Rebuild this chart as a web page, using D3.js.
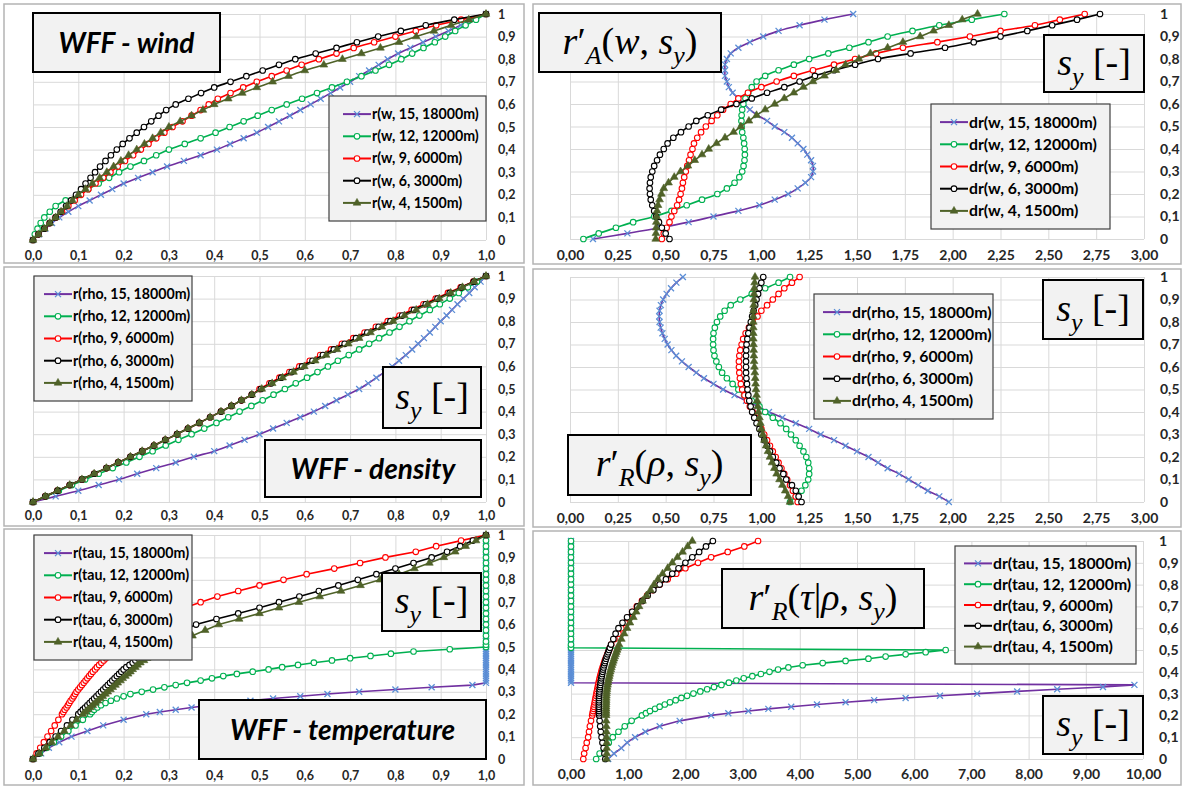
<!DOCTYPE html>
<meta charset="utf-8">
<style>
body { margin: 0; background: #fff; }
svg { display: block; }
.grid line { stroke: #d9d9d9; stroke-width: 1; }
.grid path { display: none; }
.lab text { font-family: Lato, "Open Sans", sans-serif; font-weight: bold; fill: #262626; }
</style>
<svg width="1184" height="787"></svg>
<script src="https://cdnjs.cloudflare.com/ajax/libs/d3/7.8.5/d3.min.js"></script>
<script>

// s_y sample levels (vertical axis)
var sy41 = [0,0.025,0.05,0.075,0.1,0.125,0.15,0.175,0.2,0.225,0.25,0.275,0.3,0.325,0.35,0.375,0.4,0.425,0.45,0.475,0.5,
  0.525,0.55,0.575,0.6,0.625,0.65,0.675,0.7,0.725,0.75,0.775,0.8,0.825,0.85,0.875,0.9,0.925,0.95,0.975,1];
var syTau = [0,0.025,0.05,0.075,0.1,0.125,0.15,0.175,0.2,
  0.21,0.22,0.23,0.24,0.25,0.26,0.27,0.28,0.29,0.3,0.31,0.32,0.33,0.34,0.35,0.36,0.37,0.38,0.39,0.4,
  0.41,0.42,0.43,0.44,0.45,0.46,0.47,0.48,0.49,0.5,0.51,
  0.525,0.55,0.575,0.6,0.625,0.65,0.675,0.7,0.725,0.75,0.775,0.8,0.825,0.85,0.875,0.9,0.925,0.95,0.975,1];

// WFF - wind, r(w, ...)
var rW15 = [0,.013,.027,.042,.058,.078,.1,.125,.15,.175,.2,.232,.264,.296,.333,.37,.406,.435,.465,.494,.519,.543,.567,.59,.613,.635,.657,.678,.7,.72,.742,.763,.783,.806,.833,.861,.889,.917,.944,.972,1];
var rW12 = [0,.004,.01,.017,.025,.037,.05,.072,.1,.122,.145,.168,.19,.215,.245,.272,.3,.335,.37,.403,.434,.465,.496,.527,.56,.594,.627,.66,.693,.725,.756,.786,.813,.837,.862,.887,.91,.932,.955,.978,1];
var rW9 = [0,.012,.025,.037,.05,.064,.078,.092,.106,.122,.138,.155,.171,.187,.203,.221,.238,.255,.272,.29,.308,.33,.35,.37,.388,.408,.436,.464,.494,.527,.56,.593,.631,.67,.708,.753,.8,.845,.89,.945,1];
var rW6 = [0,.012,.025,.037,.05,.061,.073,.084,.095,.106,.116,.127,.137,.148,.16,.172,.185,.198,.213,.229,.245,.261,.277,.294,.315,.343,.371,.4,.436,.471,.507,.543,.579,.624,.67,.715,.762,.812,.867,.93,1];
var rW4 = [0,.012,.025,.037,.05,.062,.075,.087,.1,.116,.131,.147,.163,.178,.194,.211,.229,.246,.264,.282,.3,.325,.35,.375,.4,.431,.462,.494,.529,.564,.6,.642,.683,.725,.767,.808,.846,.885,.923,.962,1];

// r'_A(w, s_y), dr(w, ...)
var drW15 = [.12,.3,.47,.62,.75,.88,.99,1.07,1.14,1.19,1.23,1.26,1.27,1.27,1.26,1.24,1.22,1.19,1.16,1.12,1.07,1.03,.98,.94,.91,.88,.85,.83,.82,.81,.81,.81,.82,.84,.88,.94,1.01,1.09,1.2,1.33,1.48];
var drW12 = [.07,.15,.24,.33,.44,.53,.61,.69,.77,.82,.86,.885,.9,.907,.912,.914,.913,.91,.906,.9,.897,.896,.897,.9,.906,.917,.932,.95,.975,1.02,1.09,1.17,1.25,1.35,1.46,1.56,1.66,1.79,1.93,2.1,2.27];
var drW9 = [.48,.49,.505,.52,.53,.545,.56,.57,.578,.585,.59,.597,.605,.613,.622,.63,.64,.648,.665,.685,.71,.74,.77,.8,.84,.88,.93,1.0,1.08,1.17,1.27,1.38,1.49,1.6,1.74,1.92,2.09,2.25,2.43,2.56,2.69];
var drW6 = [.52,.5,.48,.465,.45,.44,.43,.422,.418,.416,.418,.422,.43,.44,.455,.47,.49,.51,.54,.58,.62,.66,.72,.79,.87,.95,1.03,1.12,1.2,1.28,1.38,1.49,1.61,1.78,1.96,2.11,2.25,2.39,2.52,2.65,2.77];
var drW4 = [.448,.449,.45,.451,.452,.455,.46,.468,.478,.49,.515,.545,.578,.616,.652,.69,.725,.766,.81,.855,.893,.935,.975,1.02,1.07,1.12,1.17,1.22,1.27,1.33,1.39,1.44,1.51,1.57,1.66,1.74,1.83,1.9,1.98,2.05,2.13];

// WFF - density, r(rho, ...)
var rR15 = [0,.05,.1,.145,.19,.23,.272,.315,.355,.4,.434,.467,.5,.53,.56,.59,.62,.645,.67,.695,.72,.74,.758,.776,.793,.808,.823,.837,.85,.863,.876,.888,.9,.913,.925,.937,.95,.963,.975,.988,1];
var rR12 = [0,.029,.057,.086,.115,.145,.176,.206,.235,.264,.293,.321,.35,.378,.405,.431,.456,.482,.507,.531,.556,.58,.605,.628,.651,.673,.697,.72,.742,.764,.787,.809,.831,.853,.876,.898,.92,.94,.96,.98,1];
var rR9 = [0,.027,.054,.081,.108,.135,.162,.188,.215,.241,.267,.292,.318,.342,.367,.391,.415,.438,.46,.483,.5,.522,.544,.566,.588,.611,.634,.658,.682,.707,.732,.757,.783,.809,.836,.862,.889,.916,.944,.972,1];
var rR6 = [0,.027,.054,.081,.108,.135,.162,.188,.215,.241,.267,.292,.318,.342,.367,.391,.415,.438,.46,.483,.503,.526,.548,.571,.594,.617,.64,.664,.688,.713,.738,.763,.789,.815,.841,.867,.893,.92,.946,.973,1];
var rR4 = [0,.027,.054,.081,.108,.135,.162,.188,.215,.241,.267,.292,.318,.342,.367,.391,.415,.438,.46,.483,.505,.528,.551,.575,.599,.623,.647,.671,.696,.72,.745,.77,.795,.82,.846,.871,.897,.922,.948,.974,1];

// r'_R(rho, s_y), dr(rho, ...)
var drR15 = [1.98,1.93,1.87,1.82,1.77,1.72,1.66,1.61,1.56,1.5,1.44,1.38,1.31,1.25,1.18,1.11,1.04,.98,.92,.86,.8,.75,.7,.66,.62,.585,.555,.53,.51,.495,.483,.474,.468,.466,.468,.475,.487,.505,.528,.556,.59];
var drR12 = [1.15,1.18,1.21,1.23,1.245,1.25,1.25,1.245,1.235,1.22,1.2,1.18,1.155,1.13,1.1,1.06,1.02,.99,.95,.91,.88,.85,.82,.795,.778,.765,.755,.75,.748,.748,.75,.757,.768,.785,.808,.84,.89,.95,1.02,1.09,1.15];
var drR9 = [1.19,1.18,1.165,1.15,1.135,1.12,1.105,1.09,1.075,1.06,1.045,1.03,1.015,1.0,.985,.97,.955,.94,.925,.912,.9,.893,.888,.885,.883,.883,.885,.89,.897,.905,.918,.935,.955,.98,1.0,1.03,1.06,1.09,1.12,1.16,1.2];
var drR6 = [1.21,1.195,1.18,1.16,1.13,1.115,1.095,1.078,1.06,1.045,1.03,1.015,1.0,.99,.975,.963,.952,.944,.937,.932,.928,.925,.922,.92,.92,.92,.92,.921,.923,.927,.932,.938,.945,.952,.96,.968,.975,.983,.99,1.0,1.01];
var drR4 = [1.15,1.14,1.125,1.11,1.095,1.08,1.068,1.056,1.045,1.035,1.025,1.016,1.008,1.0,.995,.99,.985,.981,.978,.975,.972,.97,.968,.966,.964,.962,.961,.96,.959,.958,.958,.958,.958,.958,.959,.96,.961,.962,.963,.965,.967];

// WFF - temperature, r(tau, ...)
var rT15 = [0,.018,.035,.058,.085,.12,.155,.2,.25,
  .28,.315,.35,.39,.435,.48,.53,.59,.65,.72,.8,.88,.97,1,1,1,1,1,1,1,1,1,1,1,1,1,1,1,1,1,1,
  1,1,1,1,1,1,1,1,1,1,1,1,1,1,1,1,1,1,1,1];
var rT12 = [0,.015,.03,.046,.062,.078,.094,.11,.126,
  .13,.135,.142,.15,.16,.172,.185,.2,.215,.24,.265,.29,.315,.34,.37,.395,.42,.45,.485,.52,.55,.585,.62,.66,.7,.745,.79,.84,.92,1,1,
  1,1,1,1,1,1,1,1,1,1,1,1,1,1,1,1,1,1,1,1];
var rT9 = [0,.008,.016,.024,.032,.04,.048,.056,.064,
  .067,.07,.074,.077,.08,.083,.087,.09,.093,.096,.1,.104,.108,.112,.116,.12,.124,.128,.132,.137,.141,.146,.151,.156,.161,.166,.172,.178,.184,.19,.196,
  .205,.22,.237,.255,.277,.3,.335,.37,.407,.453,.5,.553,.604,.665,.722,.778,.845,.89,.945,1];
var rT6 = [0,.012,.025,.037,.05,.062,.075,.087,.1,
  .105,.11,.115,.12,.125,.13,.135,.14,.145,.15,.155,.16,.165,.17,.175,.18,.185,.19,.195,.2,.206,.213,.22,.226,.232,.24,.248,.256,.264,.272,.28,
  .292,.312,.333,.36,.405,.453,.5,.543,.588,.631,.674,.717,.758,.8,.84,.88,.914,.943,.971,1];
var rT4 = [0,.014,.028,.041,.055,.069,.083,.096,.11,
  .116,.121,.127,.132,.138,.143,.149,.154,.16,.165,.171,.176,.182,.187,.193,.198,.204,.21,.215,.22,.226,.231,.237,.245,.252,.26,.268,.277,.285,.294,.303,
  .316,.352,.38,.41,.455,.5,.543,.587,.633,.68,.723,.766,.808,.842,.875,.907,.932,.955,.978,1];

// r'_R(tau|rho, s_y), dr(tau, ...)
var drT15 = [.65,.75,.88,.98,1.12,1.3,1.55,1.9,2.45,
  2.75,3.1,3.45,3.85,4.3,4.8,5.3,5.85,6.45,7.1,7.8,8.5,9.3,9.85,0,0,0,0,0,0,0,0,0,0,0,0,0,0,0,0,0,
  0,0,0,0,0,0,0,0,0,0,0,0,0,0,0,0,0,0,0,0];
var drT12 = [.44,.5,.58,.66,.73,.83,.94,1.06,1.24,
  1.31,1.38,1.47,1.55,1.64,1.73,1.83,1.93,2.03,2.14,2.26,2.38,2.5,2.63,2.76,2.89,3.02,3.17,3.32,3.47,3.62,3.8,4.05,4.4,4.8,5.2,5.5,5.85,6.2,6.55,0,
  0,0,0,0,0,0,0,0,0,0,0,0,0,0,0,0,0,0,0,0];
var drT9 = [.215,.23,.255,.275,.3,.315,.33,.35,.37,
  .378,.386,.393,.4,.408,.415,.422,.43,.438,.445,.452,.46,.468,.475,.483,.492,.5,.51,.52,.53,.54,.552,.565,.578,.59,.605,.62,.635,.65,.665,.68,
  .703,.76,.83,.88,.94,1.0,1.07,1.15,1.24,1.33,1.43,1.55,1.69,1.84,2.0,2.22,2.45,2.74,3.03,3.27];
var drT6 = [.6,.585,.57,.55,.535,.52,.51,.5,.493,
  .49,.49,.488,.488,.488,.488,.49,.49,.492,.495,.498,.502,.507,.512,.518,.524,.53,.537,.545,.553,.56,.57,.58,.59,.6,.612,.625,.638,.652,.665,.68,
  .7,.74,.78,.83,.9,.98,1.07,1.16,1.25,1.34,1.44,1.55,1.66,1.77,1.88,2.0,2.12,2.24,2.36,2.48];
var drT4 = [.62,.625,.625,.625,.622,.62,.618,.615,.613,
  .613,.613,.613,.613,.614,.615,.616,.617,.618,.62,.623,.627,.632,.638,.645,.652,.66,.668,.676,.685,.695,.705,.715,.727,.74,.752,.765,.778,.792,.806,.82,
  .84,.88,.93,.98,1.03,1.09,1.14,1.19,1.25,1.32,1.39,1.45,1.52,1.6,1.69,1.77,1.86,1.95,2.04,2.12];

// tick values
var yTicks = [0,0.1,0.2,0.3,0.4,0.5,0.6,0.7,0.8,0.9,1];
var xTicksUnit = [0,0.1,0.2,0.3,0.4,0.5,0.6,0.7,0.8,0.9,1];
var xTicksQuarter = [0,0.25,0.5,0.75,1,1.25,1.5,1.75,2,2.25,2.5,2.75,3];
var xTicksTen = [0,1,2,3,4,5,6,7,8,9,10];

// legend labels
var legW = ["r(w, 15, 18000m)","r(w, 12, 12000m)","r(w, 9, 6000m)","r(w, 6, 3000m)","r(w, 4, 1500m)"];
var legDW = ["dr(w, 15, 18000m)","dr(w, 12, 12000m)","dr(w, 9, 6000m)","dr(w, 6, 3000m)","dr(w, 4, 1500m)"];
var legR = ["r(rho, 15, 18000m)","r(rho, 12, 12000m)","r(rho, 9, 6000m)","r(rho, 6, 3000m)","r(rho, 4, 1500m)"];
var legDR = ["dr(rho, 15, 18000m)","dr(rho, 12, 12000m)","dr(rho, 9, 6000m)","dr(rho, 6, 3000m)","dr(rho, 4, 1500m)"];
var legT = ["r(tau, 15, 18000m)","r(tau, 12, 12000m)","r(tau, 9, 6000m)","r(tau, 6, 3000m)","r(tau, 4, 1500m)"];
var legDT = ["dr(tau, 15, 18000m)","dr(tau, 12, 12000m)","dr(tau, 9, 6000m)","dr(tau, 6, 3000m)","dr(tau, 4, 1500m)"];

var styles = [
  {line: "#7030a0", mark: "x", color: "#5b8fd6"},
  {line: "#00b050", mark: "o", color: "#00b050"},
  {line: "#ff0000", mark: "o", color: "#ff0000"},
  {line: "#000000", mark: "o", color: "#000000"},
  {line: "#4f6228", mark: "t", color: "#4f6228"}
];

var svg = d3.select("svg");
var tri = d3.symbol().type(d3.symbolTriangle).size(26);

function marker(g, st, px, py) {
  if (st.mark == "x") {
    g.append("path").attr("d", "M-3,-3L3,3M-3,3L3,-3")
      .attr("transform", "translate(" + px + "," + py + ")")
      .attr("stroke", st.color).attr("stroke-width", 1.3).attr("fill", "none");
  } else if (st.mark == "o") {
    g.append("circle").attr("cx", px).attr("cy", py).attr("r", 2.8)
      .attr("fill", "#fff").attr("stroke", st.color).attr("stroke-width", 1.1);
  } else {
    g.append("path").attr("d", tri).attr("transform", "translate(" + px + "," + py + ")")
      .attr("fill", st.color).attr("stroke", st.color).attr("stroke-width", 0.6);
  }
}

function fmtY(d) { return d == 0 ? "0" : d == 1 ? "1" : d.toFixed(1).replace(".", ","); }

function textBox(b) {
  svg.append("rect").attr("x", b[0]).attr("y", b[1]).attr("width", b[2] - b[0]).attr("height", b[3] - b[1])
    .attr("fill", "#f2f2f2").attr("stroke", "#000").attr("stroke-width", 2);
}

function wffBox(b, label, fs) {
  textBox(b);
  svg.append("text").attr("x", (b[0] + b[2]) / 2).attr("y", (b[1] + b[3]) / 2 + fs * 0.36)
    .attr("text-anchor", "middle").style("font-family", "Lato, sans-serif").style("font-style", "italic")
    .style("font-weight", "bold").style("font-size", fs + "px").attr("fill", "#000").text(label);
}

// parts: [text, kind] with kind i = italic, n = upright, s = italic subscript
function mathBox(b, parts, fs) {
  textBox(b);
  var t = svg.append("text").attr("x", (b[0] + b[2]) / 2).attr("y", (b[1] + b[3]) / 2 + fs * 0.3)
    .attr("text-anchor", "middle").style("font-family", "'Liberation Serif', 'DejaVu Serif', serif")
    .style("font-size", fs + "px").attr("fill", "#000");
  var low = false;
  parts.forEach(function(p) {
    var ts = t.append("tspan").text(p[0]);
    if (p[1] == "s") {
      ts.style("font-size", (fs * 0.68) + "px").style("font-style", "italic");
      if (!low) ts.attr("dy", fs * 0.26);
      low = true;
    } else {
      if (p[1] == "i") ts.style("font-style", "italic");
      if (low) ts.attr("dy", -fs * 0.26);
      low = false;
    }
  });
}

var syParts = [["s", "i"], ["y", "s"], [" [-]", "n"]];

function drawPanel(p) {
  var x = d3.scaleLinear().domain(p.xDomain).range([p.plot[0], p.plot[2]]);
  var y = d3.scaleLinear().domain([0, 1]).range([p.plot[3], p.plot[1]]);
  var w = p.plot[2] - p.plot[0], h = p.plot[3] - p.plot[1];

  svg.append("rect").attr("x", p.frame[0]).attr("y", p.frame[1])
    .attr("width", p.frame[2] - p.frame[0]).attr("height", p.frame[3] - p.frame[1])
    .attr("fill", "#fff").attr("stroke", "#b4b4b4").attr("stroke-width", 1.5);

  svg.append("g").attr("class", "grid").attr("transform", "translate(0," + p.plot[3] + ")")
    .call(d3.axisBottom(x).tickValues(p.xTicks).tickSize(-h).tickFormat(""));
  svg.append("g").attr("class", "grid").attr("transform", "translate(" + p.plot[0] + ",0)")
    .call(d3.axisLeft(y).tickValues(yTicks).tickSize(-w).tickFormat(""));

  var xa = svg.append("g").attr("class", "lab").attr("transform", "translate(0," + p.plot[3] + ")")
    .call(d3.axisBottom(x).tickValues(p.xTicks).tickSize(0).tickPadding(p.padX)
      .tickFormat(function(d) { return d.toFixed(p.dec).replace(".", ","); }));
  xa.select(".domain").remove();
  xa.selectAll("text").style("font-size", p.fs + "px");

  var ya = svg.append("g").attr("class", "lab").attr("transform", "translate(" + p.plot[2] + ",0)")
    .call(d3.axisRight(y).tickValues(yTicks).tickSize(0).tickPadding(p.padY).tickFormat(fmtY));
  ya.select(".domain").remove();
  ya.selectAll("text").style("font-size", p.fs + "px");

  var line = d3.line().curve(p.curve).x(function(d) { return x(d[0]); }).y(function(d) { return y(d[1]); });
  p.series.forEach(function(s, i) {
    var st = styles[i];
    var pts = p.sy.map(function(v, j) { return [s[j], v]; });
    var g = svg.append("g");
    g.append("path").datum(pts).attr("d", line).attr("fill", "none")
      .attr("stroke", st.line).attr("stroke-width", 1.6);
    pts.forEach(function(d) { marker(g, st, x(d[0]), y(d[1])); });
  });

  // legend
  var L = p.legend;
  svg.append("rect").attr("x", L[0]).attr("y", L[1]).attr("width", L[2] - L[0]).attr("height", L[3] - L[1])
    .attr("fill", "#f2f2f2").attr("stroke", "#404040").attr("stroke-width", 1.2);
  var step = (L[3] - L[1] - 14) / 5;
  p.labels.forEach(function(lab, i) {
    var ly = L[1] + 7 + step * (i + 0.5);
    var g = svg.append("g");
    g.append("line").attr("x1", L[0] + p.legX).attr("x2", L[0] + p.legX + 28).attr("y1", ly).attr("y2", ly)
      .attr("stroke", styles[i].line).attr("stroke-width", 2);
    marker(g, styles[i], L[0] + p.legX + 14, ly);
    g.append("text").attr("x", L[0] + p.legX + 29).attr("y", ly + p.legFs * 0.35)
      .style("font-family", "Lato, sans-serif").style("font-weight", "bold")
      .style("font-size", p.legFs + "px").attr("fill", "#000").text(lab);
  });
}

var smooth = d3.curveCatmullRom.alpha(0.5);

drawPanel({frame: [4, 4, 524, 263], plot: [33, 14, 486, 240], xDomain: [0, 1], xTicks: xTicksUnit, dec: 1,
  fs: 12.5, padX: 11, padY: 12, sy: sy41, series: [rW15, rW12, rW9, rW6, rW4], curve: smooth,
  legend: [329, 96, 486, 221], labels: legW, legX: 14, legFs: 14.2});
drawPanel({frame: [533, 4, 1181, 264], plot: [570, 14, 1144, 239], xDomain: [0, 3], xTicks: xTicksQuarter, dec: 2,
  fs: 14, padX: 11, padY: 16, sy: sy41, series: [drW15, drW12, drW9, drW6, drW4], curve: smooth,
  legend: [931, 104, 1110, 229], labels: legDW, legX: 9, legFs: 15.8});
drawPanel({frame: [4, 267, 524, 526], plot: [33, 276, 486, 502], xDomain: [0, 1], xTicks: xTicksUnit, dec: 1,
  fs: 12.5, padX: 9, padY: 12, sy: sy41, series: [rR15, rR12, rR9, rR6, rR4], curve: smooth,
  legend: [34, 276, 192, 401], labels: legR, legX: 10, legFs: 14.2});
drawPanel({frame: [533, 269, 1181, 527], plot: [570, 277, 1144, 502], xDomain: [0, 3], xTicks: xTicksQuarter, dec: 2,
  fs: 14, padX: 11, padY: 16, sy: sy41, series: [drR15, drR12, drR9, drR6, drR4], curve: smooth,
  legend: [814, 294, 993, 419], labels: legDR, legX: 9, legFs: 15.8});
drawPanel({frame: [4, 529, 524, 785], plot: [33, 535, 486, 759], xDomain: [0, 1], xTicks: xTicksUnit, dec: 1,
  fs: 12.5, padX: 12, padY: 12, sy: syTau, series: [rT15, rT12, rT9, rT6, rT4], curve: d3.curveLinear,
  legend: [34, 535, 192, 660], labels: legT, legX: 10, legFs: 14.2});
drawPanel({frame: [533, 531, 1181, 785], plot: [571, 541, 1143, 759], xDomain: [0, 10], xTicks: xTicksTen, dec: 2,
  fs: 14, padX: 10, padY: 16, sy: syTau, series: [drT15, drT12, drT9, drT6, drT4], curve: d3.curveLinear,
  legend: [955, 546, 1136, 664], labels: legDT, legX: 9, legFs: 15.8});

// annotation boxes
wffBox([33, 13, 220, 72], "WFF - wind", 28);
mathBox([539, 13, 721, 72], [["r", "i"], ["\u2032", "n"], ["A", "s"], ["(", "n"], ["w", "i"], [", ", "n"], ["s", "i"], ["y", "s"], [")", "n"]], 38);
mathBox([1044, 35, 1144, 92], syParts, 38);
mathBox([383, 367, 481, 428], syParts, 38);
wffBox([265, 440, 481, 497], "WFF - density", 28);
mathBox([1043, 280, 1143, 339], syParts, 38);
mathBox([568, 435, 751, 495], [["r", "i"], ["\u2032", "n"], ["R", "s"], ["(", "n"], ["\u03c1", "i"], [", ", "n"], ["s", "i"], ["y", "s"], [")", "n"]], 38);
mathBox([382, 573, 481, 631], syParts, 38);
wffBox([199, 700, 486, 759], "WFF - temperature", 28);
mathBox([722, 569, 924, 628], [["r", "i"], ["\u2032", "n"], ["R", "s"], ["(", "n"], ["\u03c4", "i"], ["|", "n"], ["\u03c1", "i"], [", ", "n"], ["s", "i"], ["y", "s"], [")", "n"]], 38);
mathBox([1043, 696, 1143, 754], syParts, 38);

</script>
